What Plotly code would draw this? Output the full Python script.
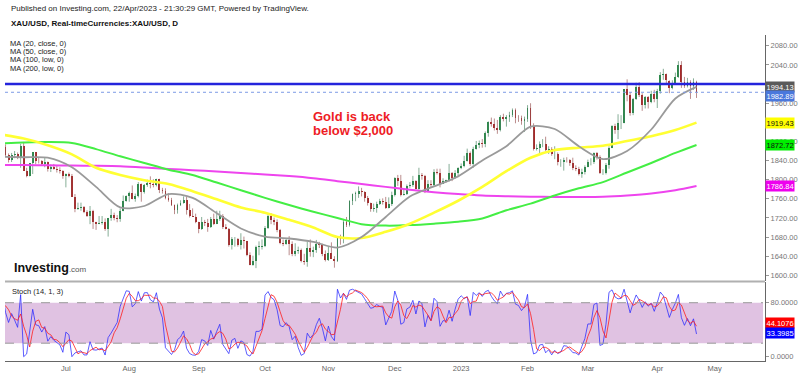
import numpy as np
import pandas as pd
import plotly.graph_objects as go

# ---------------- DATA ----------------
first_day = "2022-05-13"        # first bar in the data (needed for Stoch look-back)
visible_start = "2022-06-01"    # bar index 0
market_holidays = ["2023-04-07"]

open_ = [
    # May 2022 (from 13th)
    1822, 1811, 1824, 1815, 1816, 1841, 1846, 1853, 1866, 1853, 1851, 1853, 1855,
    # Jun 2022
    1837, 1847, 1869, 1851, 1841, 1852, 1853, 1848, 1871, 1819, 1808, 1834, 1857, 1840, 1839, 1832, 1838, 1822, 1827, 1823, 1820, 1818,
    # Jul 2022
    1807, 1811, 1808, 1764, 1739, 1740, 1742, 1733, 1725, 1735, 1711, 1708, 1709, 1711, 1696, 1719, 1727, 1719, 1717, 1734, 1756,
    # Aug 2022
    1765, 1772, 1760, 1765, 1791, 1775, 1789, 1794, 1792, 1789, 1802, 1779, 1776, 1761, 1758, 1747, 1736, 1748, 1751, 1758, 1737, 1725, 1723,
    # Sep 2022
    1711, 1697, 1712, 1710, 1702, 1718, 1708, 1717, 1725, 1702, 1697, 1664, 1675, 1676, 1664, 1673, 1671, 1643, 1622, 1629, 1660, 1660,
    # Oct 2022
    1661, 1699, 1725, 1716, 1712, 1695, 1668, 1666, 1673, 1666, 1644, 1650, 1652, 1629, 1627, 1657, 1649, 1652, 1665, 1663, 1645,
    # Nov 2022
    1633, 1647, 1635, 1630, 1681, 1676, 1712, 1706, 1755, 1771, 1771, 1777, 1774, 1762, 1751, 1738, 1740, 1750, 1755, 1754, 1741, 1750,
    # Dec 2022
    1768, 1803, 1797, 1769, 1771, 1787, 1789, 1797, 1781, 1810, 1807, 1777, 1792, 1788, 1817, 1814, 1792, 1798, 1798, 1814, 1804, 1815,
    # Jan 2023
    1824, 1828, 1839, 1855, 1833, 1865, 1872, 1877, 1875, 1897, 1920, 1916, 1908, 1904, 1932, 1926, 1931, 1936, 1946, 1930, 1929, 1923,
    # Feb 2023
    1928, 1951, 1912, 1865, 1867, 1874, 1875, 1862, 1865, 1853, 1854, 1836, 1836, 1842, 1841, 1835, 1825, 1822, 1811, 1817,
    # Mar 2023
    1827, 1836, 1836, 1855, 1847, 1813, 1814, 1830, 1867, 1913, 1904, 1918, 1919, 1989, 1978, 1940, 1969, 1993, 1978, 1956, 1973, 1963, 1980,
    # Apr 2023
    1969, 1985, 2020, 2021, 2007, 1991, 2003, 2014, 2040, 2004, 1995, 2005, 1995, 2005,
]
high = [
    1827, 1828, 1832, 1819, 1849, 1849, 1865, 1870, 1869, 1857, 1859, 1864, 1855,
    1849, 1874, 1874, 1855, 1856, 1860, 1857, 1875, 1879, 1825, 1835, 1857, 1858, 1846, 1841, 1847, 1838, 1832, 1833, 1829, 1826, 1820,
    1813, 1815, 1812, 1770, 1752, 1752, 1745, 1736, 1745, 1737, 1712, 1724, 1724, 1719, 1720, 1739, 1731, 1726, 1740, 1767, 1767,
    1775, 1788, 1771, 1795, 1792, 1791, 1800, 1807, 1801, 1802, 1802, 1783, 1782, 1772, 1762, 1748, 1750, 1757, 1765, 1764, 1749, 1740, 1729,
    1712, 1722, 1716, 1718, 1722, 1729, 1735, 1735, 1728, 1707, 1699, 1680, 1680, 1678, 1688, 1681, 1672, 1648, 1641, 1662, 1671, 1675,
    1703, 1729, 1730, 1721, 1717, 1697, 1675, 1678, 1682, 1671, 1667, 1660, 1656, 1645, 1670, 1675, 1660, 1674, 1670, 1666, 1652,
    1660, 1669, 1640, 1681, 1685, 1718, 1722, 1757, 1771, 1775, 1786, 1783, 1776, 1766, 1752, 1750, 1754, 1760, 1761, 1764, 1763, 1775,
    1805, 1810, 1810, 1781, 1790, 1795, 1808, 1799, 1825, 1814, 1810, 1799, 1799, 1822, 1823, 1823, 1803, 1800, 1833, 1816, 1820, 1826,
    1834, 1850, 1865, 1859, 1869, 1881, 1882, 1885, 1901, 1922, 1930, 1928, 1925, 1935, 1938, 1935, 1942, 1949, 1949, 1935, 1934, 1932,
    1956, 1960, 1918, 1874, 1880, 1885, 1890, 1870, 1868, 1870, 1857, 1843, 1846, 1847, 1843, 1846, 1830, 1827, 1823, 1830,
    1842, 1845, 1857, 1858, 1851, 1822, 1835, 1870, 1914, 1917, 1937, 1935, 1989, 2010, 1983, 1971, 2003, 2004, 1981, 1975, 1975, 1986, 1988,
    1990, 2025, 2032, 2022, 2008, 2008, 2024, 2048, 2048, 2015, 2013, 2008, 2012, 2007,
]
low = [
    1798, 1807, 1810, 1807, 1813, 1835, 1845, 1848, 1846, 1844, 1846, 1850, 1829,
    1828, 1844, 1849, 1836, 1837, 1845, 1843, 1825, 1819, 1805, 1807, 1812, 1832, 1834, 1829, 1826, 1817, 1816, 1821, 1815, 1813, 1802,
    1784, 1805, 1764, 1732, 1737, 1735, 1730, 1722, 1707, 1697, 1695, 1707, 1706, 1693, 1681, 1714, 1715, 1711, 1712, 1734, 1754,
    1754, 1759, 1754, 1763, 1754, 1771, 1785, 1782, 1784, 1786, 1772, 1771, 1759, 1754, 1745, 1728, 1729, 1745, 1750, 1727, 1721, 1722, 1709,
    1688, 1695, 1703, 1691, 1699, 1705, 1707, 1714, 1697, 1696, 1660, 1654, 1660, 1660, 1654, 1656, 1640, 1621, 1620, 1615, 1642, 1654,
    1659, 1697, 1707, 1705, 1690, 1665, 1661, 1664, 1642, 1640, 1640, 1645, 1627, 1622, 1618, 1639, 1638, 1647, 1657, 1640, 1629,
    1630, 1635, 1616, 1628, 1664, 1667, 1701, 1702, 1747, 1755, 1762, 1765, 1754, 1746, 1733, 1733, 1731, 1747, 1748, 1739, 1740, 1745,
    1765, 1787, 1765, 1767, 1768, 1783, 1785, 1780, 1779, 1800, 1772, 1774, 1783, 1785, 1811, 1784, 1791, 1794, 1796, 1797, 1802, 1808,
    1822, 1826, 1838, 1829, 1825, 1863, 1866, 1867, 1868, 1890, 1911, 1903, 1896, 1901, 1922, 1911, 1921, 1931, 1918, 1921, 1915, 1900,
    1921, 1906, 1861, 1861, 1856, 1868, 1860, 1854, 1850, 1843, 1830, 1827, 1819, 1836, 1829, 1820, 1818, 1809, 1804, 1811,
    1826, 1830, 1833, 1842, 1812, 1810, 1811, 1823, 1866, 1896, 1885, 1906, 1918, 1964, 1934, 1935, 1967, 1973, 1944, 1949, 1949, 1960, 1962,
    1950, 1980, 2009, 1999, 1981, 1989, 1999, 2013, 1992, 1992, 1993, 1969, 1988, 1971,
]
close = [
    1811, 1824, 1815, 1816, 1841, 1846, 1853, 1866, 1853, 1851, 1853, 1855, 1837,
    1847, 1869, 1851, 1841, 1852, 1853, 1848, 1871, 1819, 1808, 1834, 1857, 1840, 1839, 1832, 1838, 1822, 1827, 1823, 1820, 1818, 1807,
    1811, 1808, 1764, 1739, 1740, 1742, 1733, 1725, 1735, 1711, 1708, 1709, 1711, 1696, 1719, 1727, 1719, 1717, 1734, 1756, 1765,
    1772, 1760, 1765, 1791, 1775, 1789, 1794, 1792, 1789, 1802, 1779, 1776, 1761, 1758, 1747, 1736, 1748, 1751, 1758, 1737, 1725, 1723, 1711,
    1697, 1712, 1710, 1702, 1718, 1708, 1717, 1725, 1702, 1697, 1664, 1675, 1676, 1664, 1673, 1671, 1643, 1622, 1629, 1660, 1660, 1661,
    1699, 1725, 1716, 1712, 1695, 1668, 1666, 1673, 1666, 1644, 1650, 1652, 1629, 1627, 1657, 1649, 1652, 1665, 1663, 1645, 1633,
    1647, 1635, 1630, 1681, 1676, 1712, 1706, 1755, 1771, 1771, 1777, 1774, 1762, 1751, 1738, 1740, 1750, 1755, 1754, 1741, 1750, 1768,
    1803, 1797, 1769, 1771, 1787, 1789, 1797, 1781, 1810, 1807, 1777, 1792, 1788, 1817, 1814, 1792, 1798, 1798, 1814, 1804, 1815, 1824,
    1828, 1839, 1855, 1833, 1865, 1872, 1877, 1875, 1897, 1920, 1916, 1908, 1904, 1932, 1926, 1931, 1936, 1946, 1930, 1929, 1923, 1928,
    1951, 1912, 1865, 1867, 1874, 1875, 1862, 1865, 1853, 1854, 1836, 1836, 1842, 1841, 1835, 1825, 1822, 1811, 1817, 1827,
    1836, 1836, 1855, 1847, 1813, 1814, 1830, 1867, 1913, 1904, 1918, 1919, 1989, 1978, 1940, 1969, 1993, 1978, 1956, 1973, 1963, 1980, 1969,
    1985, 2020, 2021, 2008, 1991, 2003, 2014, 2040, 2004, 1995, 2005, 1995, 2005, 1982.89,
]

ma_bars = [0, 8, 16, 24, 32, 40, 48, 56, 64, 72, 80, 88, 96, 104, 112, 120, 128, 136,
           144, 152, 160, 168, 176, 184, 192, 200, 208, 216, 224, 231]
ma20 = [1848, 1847, 1846, 1826, 1785, 1742, 1745, 1770, 1762, 1730, 1698, 1681, 1677, 1670, 1658,
        1680, 1722, 1765, 1786, 1807, 1840, 1870, 1911, 1906, 1870, 1843, 1860, 1905, 1970, 1994.13]
ma50 = [1895, 1886, 1872, 1853, 1825, 1810, 1799, 1791, 1776, 1759, 1742, 1731, 1716, 1700, 1680,
        1678, 1691, 1708, 1731, 1756, 1785, 1818, 1846, 1862, 1867, 1871, 1881, 1891, 1904, 1919.43]
ma100 = [1876, 1878, 1879, 1877, 1864, 1849, 1835, 1821, 1810, 1794, 1778, 1762, 1747, 1733, 1720,
         1707, 1704, 1705, 1708, 1712, 1719, 1736, 1750, 1767, 1782, 1795, 1815, 1835, 1856, 1872.72]
ma200 = [1831, 1830.5, 1830, 1829.5, 1829, 1828, 1825.5, 1822.5, 1820, 1817, 1814, 1811, 1807.5, 1803,
         1797, 1791, 1785, 1779, 1774, 1770, 1767, 1765.5, 1764.5, 1764, 1764, 1764.5, 1767, 1771, 1778, 1786.84]

ma_names = ["MA (20, close, 0)", "MA (50, close, 0)", "MA (100, low, 0)", "MA (200, low, 0)"]
last_price = 1982.89
resistance_level = 2000
stoch_last_d = 44.1076
stoch_last_k = 33.3985

month_ticks = ["2022-07-01", "2022-08-01", "2022-09-01", "2022-10-03", "2022-11-01", "2022-12-01",
               "2023-01-02", "2023-02-01", "2023-03-01", "2023-04-03", "2023-05-01"]
month_labels = ["Jul", "Aug", "Sep", "Oct", "Nov", "Dec", "2023", "Feb", "Mar", "Apr", "May"]
price_ticks = list(range(1600, 2081, 40))
price_ticks_hidden = [1920, 2000]   # covered by the price badges in the original
stoch_ticks = [0, 80]

# ---------------- BUILD ----------------
cal = pd.bdate_range(first_day, "2023-05-31", freq="C", holidays=market_holidays)
n = len(close)
assert len(open_) == len(high) == len(low) == n
base = cal.get_loc(pd.Timestamp(visible_start))
pos = np.arange(n) - base
tick_pos = [cal.get_loc(pd.Timestamp(d)) - base for d in month_ticks]

o = np.array(open_, float); h = np.array(high, float)
l = np.array(low, float); c = np.array(close, float)
up = c >= o

# stochastic (14, 1, 3)
hh = pd.Series(h).rolling(14, min_periods=1).max()
ll = pd.Series(l).rolling(14, min_periods=1).min()
k = 100 * (pd.Series(c) - ll) / (hh - ll)
d = k.rolling(3, min_periods=1).mean()

GREEN = "#2b8a4a"
RED = "#a82828"
FONT = "Liberation Sans"

fig = go.Figure()

def wick_xy(mask):
    xs, ys = [], []
    for i in np.where(mask)[0]:
        xs += [pos[i], pos[i], None]
        ys += [l[i], h[i], None]
    return xs, ys

for mask, col in [(up, "rgba(70,130,95,0.65)"), (~up, "rgba(150,80,80,0.65)")]:
    xs, ys = wick_xy(mask)
    fig.add_trace(go.Scatter(x=xs, y=ys, mode="lines", line=dict(color=col, width=1),
                             hoverinfo="skip", showlegend=False, xaxis="x", yaxis="y"))

body_base = np.minimum(o, c)
body_h = np.maximum(np.abs(c - o), 0.9)
fig.add_trace(go.Bar(x=pos, y=body_h, base=body_base, width=0.62,
                     marker=dict(color=[GREEN if u else RED for u in up], line=dict(width=0)),
                     hoverinfo="skip", showlegend=False, xaxis="x", yaxis="y"))

ma_styles = [(ma200, "#ee44ee", 2), (ma100, "#44ee44", 2), (ma50, "#ffff33", 2.6), (ma20, "#9a9a9a", 1.8)]
for vals, col, w in ma_styles:
    fig.add_trace(go.Scatter(x=ma_bars, y=vals, mode="lines", line=dict(color=col, width=w, shape="spline", smoothing=0.8),
                             hoverinfo="skip", showlegend=False, xaxis="x", yaxis="y"))

fig.add_trace(go.Scatter(x=pos, y=k, mode="lines", line=dict(color="rgba(40,40,255,0.75)", width=1),
                         hoverinfo="skip", showlegend=False, xaxis="x2", yaxis="y2"))
fig.add_trace(go.Scatter(x=pos, y=d, mode="lines", line=dict(color="rgba(255,30,30,0.8)", width=1),
                         hoverinfo="skip", showlegend=False, xaxis="x2", yaxis="y2"))

W, H = 800, 376
PX0, PX1 = 5, 765
MAIN_TOP, MAIN_BOT = 35, 281
ST_TOP, ST_BOT = 282, 361
xr = [1.82, 253.7]

def py(p):
    return 1 - p / H

axis_font = dict(family=FONT, size=7.5, color="#777")
fig.update_layout(
    width=W, height=H, margin=dict(l=0, r=0, t=0, b=0),
    paper_bgcolor="white", plot_bgcolor="white", font=dict(family=FONT),
    barmode="overlay", bargap=0,
    xaxis=dict(domain=[PX0 / W, PX1 / W], range=xr, anchor="y", showticklabels=False,
               showgrid=False, zeroline=False, showline=False, fixedrange=True),
    xaxis2=dict(domain=[PX0 / W, PX1 / W], range=xr, anchor="y2", tickvals=tick_pos, ticktext=month_labels,
                tickfont=dict(family=FONT, size=7.5, color="#666"), showgrid=False, zeroline=False,
                showline=True, linecolor="#666", linewidth=1, ticks=""),
    yaxis=dict(domain=[py(MAIN_BOT), py(MAIN_TOP)], range=[1588.1, 2102.7], side="right", anchor="x",
               tickvals=price_ticks,
               ticktext=["" if v in price_ticks_hidden else f"{v}.00" for v in price_ticks], ticks="outside",
               ticklen=3, tickcolor="#999", showline=True, linecolor="#666", linewidth=1,
               showgrid=False, zeroline=False, tickfont=axis_font),
    yaxis2=dict(domain=[py(ST_BOT), py(ST_TOP)], range=[-6.4, 110.7], side="right", anchor="x2",
                tickvals=stoch_ticks, ticktext=[f"{v:.4f}" for v in stoch_ticks], ticks="outside",
                ticklen=3, tickcolor="#999", showline=True, linecolor="#666", linewidth=1,
                showgrid=False, zeroline=False, tickfont=axis_font),
)

shapes = [
    dict(type="rect", xref="x2 domain", x0=0, x1=(763 - PX0) / (PX1 - PX0), yref="y2", y0=20, y1=80,
         fillcolor="#e0c2e2", line=dict(width=0), layer="below"),
    dict(type="line", xref="x2 domain", x0=0, x1=(763 - PX0) / (PX1 - PX0), yref="y2", y0=80, y1=80,
         line=dict(color="#999", width=1, dash="dash")),
    dict(type="line", xref="x2 domain", x0=0, x1=(763 - PX0) / (PX1 - PX0), yref="y2", y0=20, y1=20,
         line=dict(color="#999", width=1, dash="dash")),
    dict(type="line", xref="paper", x0=PX0 / W, x1=PX1 / W, yref="paper", y0=py(281.5), y1=py(281.5),
         line=dict(color="#b0b0b0", width=2)),
    dict(type="line", xref="x domain", x0=0, x1=1, yref="y", y0=resistance_level, y1=resistance_level,
         line=dict(color="#2424dc", width=2.5)),
    dict(type="line", xref="x domain", x0=0, x1=1, yref="y", y0=last_price, y1=last_price,
         line=dict(color="#7c9ae6", width=1, dash="dot")),
]
fig.update_layout(shapes=shapes)

ann = []
def txt(x, y, s, size, color="#222", bold=False, anchor="left"):
    ann.append(dict(xref="paper", yref="paper", x=x / W, y=py(y), text=(f"<b>{s}</b>" if bold else s),
                    showarrow=False, xanchor=anchor, yanchor="middle",
                    font=dict(family=FONT, size=size, color=color)))

txt(9, 9, "Published on Investing.com, 22/Apr/2023 - 21:30:29 GMT, Powered by TradingView.", 8, "#222")
txt(9, 24, "XAU/USD, Real-timeCurrencies:XAU/USD, D", 8, "#111", bold=True)
for j, name in enumerate(ma_names):
    txt(8, 43 + 8.5 * j, name, 7.5, "#222")
txt(311, 116, "Gold is back", 13, "#ee1c25", bold=True)
txt(311, 131, "below $2,000", 13, "#ee1c25", bold=True)
txt(10, 291.5, "Stoch (14, 1, 3)", 7.5, "#222")
ann.append(dict(xref="paper", yref="paper", x=12 / W, y=py(267.5), showarrow=False, xanchor="left", yanchor="middle",
                text="<b>Investing</b><span style='font-size:8px;color:#555'>.com</span>",
                font=dict(family=FONT, size=12.5, color="#111")))

def badge(yref, val, text, bg, fg, shift=0):
    ann.append(dict(xref="paper", x=PX1 / W, xanchor="left", yref=yref, y=val, yanchor="middle", yshift=shift,
                    text=text, showarrow=False, bgcolor=bg, borderpad=0.5,
                    font=dict(family=FONT, size=7.5, color=fg)))

badge("y", ma20[-1], f"{ma20[-1]:.2f}", "#5a5a5a", "white")
badge("y", last_price, f"{last_price:.2f}", "#4a78dc", "white", shift=-3.5)
badge("y", ma50[-1], f"{ma50[-1]:.2f}", "#ffff00", "#111")
badge("y", ma100[-1], f"{ma100[-1]:.2f}", "#00ee00", "#111")
badge("y", ma200[-1], f"{ma200[-1]:.2f}", "#ee00ee", "white")
badge("y2", stoch_last_d, f"{stoch_last_d:.4f}", "#ff0000", "white", shift=3.5)
badge("y2", stoch_last_k, f"{stoch_last_k:.4f}", "#0000ff", "white", shift=0.8)

fig.update_layout(annotations=ann)
fig.write_html("out.html", config={"displayModeBar": False, "staticPlot": True},
               post_script="document.body.style.margin='0';document.body.style.overflow='hidden';")
